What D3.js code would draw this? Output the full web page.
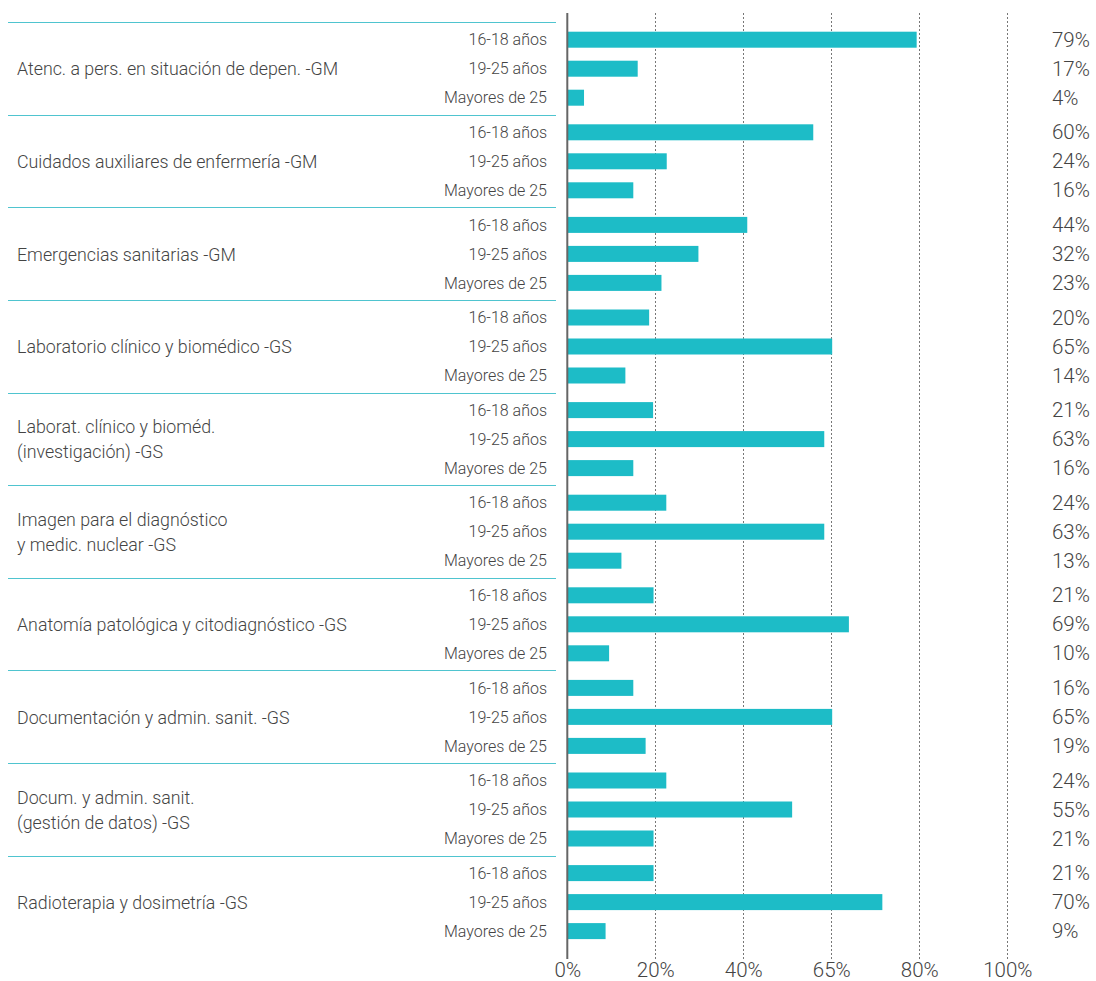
<!DOCTYPE html>
<html>
<head>
<meta charset="utf-8">
<script src="https://cdn.jsdelivr.net/npm/d3@7"></script>
<style>
  html, body { margin: 0; padding: 0; background: #fff; }
  svg { display: block; font-family: Roboto, "Open Sans", sans-serif; }
</style>
</head>
<body>
<svg id="chart" width="1096" height="981"></svg>
<script>
const categories = [
  "Atenc. a pers. en situación de depen. -GM",
  "Cuidados auxiliares de enfermería -GM",
  "Emergencias sanitarias -GM",
  "Laboratorio clínico y biomédico -GS",
  "Laborat. clínico y bioméd.\n(investigación) -GS",
  "Imagen para el diagnóstico\ny medic. nuclear -GS",
  "Anatomía patológica y citodiagnóstico -GS",
  "Documentación y admin. sanit. -GS",
  "Docum. y admin. sanit.\n(gestión de datos) -GS",
  "Radioterapia y dosimetría -GS"
];
const ageGroups = ["16-18 años", "19-25 años", "Mayores de 25"];

// bar lengths as drawn against the axis (%)
const bars16_18 = [79.4, 55.9, 40.9, 18.6, 19.5, 22.5, 19.6, 15.0, 22.5, 19.6];
const bars19_25 = [16.0, 22.6, 29.8, 60.2, 58.4, 58.4, 64.0, 60.2, 51.1, 71.6];
const barsMay25 = [3.8, 15.0, 21.4, 13.2, 15.0, 12.3, 9.5, 17.8, 19.6, 8.7];

// printed value labels (%)
const labels16_18 = [79, 60, 44, 20, 21, 24, 21, 16, 24, 21];
const labels19_25 = [17, 24, 32, 65, 63, 63, 69, 65, 55, 70];
const labelsMay25 = [4, 16, 23, 14, 16, 13, 10, 19, 21, 9];

const tickValues = [0, 20, 40, 60, 80, 100];
const tickLabels = ["0%", "20%", "40%", "65%", "80%", "100%"];

const barSeries = [bars16_18, bars19_25, barsMay25];
const labelSeries = [labels16_18, labels19_25, labelsMay25];

const rows = [];
categories.forEach((c, i) => {
  ageGroups.forEach((a, j) => {
    rows.push({cat: c, age: a, value: barSeries[j][i], label: labelSeries[j][i]});
  });
});

const svg = d3.select("#chart");
const textColor = "#444";
const barColor = "#1dbcc7";

const x = d3.scaleLinear().domain([0, 100]).range([567.3, 1007.3]);
const yGroup = d3.scaleBand().domain(categories).range([22.2, 22.2 + 92.6 * categories.length]).padding(0);
const yRow = d3.scaleBand().domain(ageGroups).range([3, 90]).paddingInner(0.4483).paddingOuter(0.4483 / 2);

const axisTop = 13, axisBottom = 959;

// gridlines
svg.append("g").selectAll("line")
  .data(tickValues.slice(1))
  .join("line")
  .attr("x1", d => Math.round(x(d)) + 0.5)
  .attr("x2", d => Math.round(x(d)) + 0.5)
  .attr("y1", axisTop).attr("y2", axisBottom)
  .attr("stroke", "#777").attr("stroke-width", 1)
  .attr("stroke-dasharray", "2,2");

// group separators
svg.append("g").selectAll("line")
  .data(categories)
  .join("line")
  .attr("x1", 8).attr("x2", 556)
  .attr("y1", d => Math.round(yGroup(d)) + 0.5)
  .attr("y2", d => Math.round(yGroup(d)) + 0.5)
  .attr("stroke", "#4fc4cf").attr("stroke-width", 1);

// bars
svg.append("g").selectAll("rect")
  .data(rows)
  .join("rect")
  .attr("x", x(0))
  .attr("y", d => yGroup(d.cat) + yRow(d.age))
  .attr("width", d => x(d.value) - x(0))
  .attr("height", yRow.bandwidth())
  .attr("fill", barColor);

// axis line
svg.append("line")
  .attr("x1", x(0)).attr("x2", x(0))
  .attr("y1", axisTop).attr("y2", axisBottom)
  .attr("stroke", "#666").attr("stroke-width", 2);

// row labels
svg.append("g").selectAll("text")
  .data(rows)
  .join("text")
  .attr("x", 547)
  .attr("y", d => yGroup(d.cat) + yRow(d.age) + yRow.bandwidth() / 2)
  .attr("dy", "0.35em")
  .attr("text-anchor", "end")
  .attr("font-size", 16)
  .attr("font-weight", 300)
  .attr("fill", textColor)
  .text(d => d.age);

// value labels
svg.append("g").selectAll("text")
  .data(rows)
  .join("text")
  .attr("x", 1052)
  .attr("y", d => yGroup(d.cat) + yRow(d.age) + yRow.bandwidth() / 2)
  .attr("dy", "0.35em")
  .attr("font-size", 20.5)
  .attr("font-weight", 300)
  .attr("fill", textColor)
  .text(d => d.label + "%");

// category labels
const catG = svg.append("g").selectAll("text")
  .data(categories)
  .join("text")
  .attr("x", 17)
  .attr("font-size", 17.8)
  .attr("font-weight", 300)
  .attr("fill", textColor);
catG.each(function(d) {
  const lines = d.split("\n");
  const cy = yGroup(d) + 47;
  const lh = 25;
  const t = d3.select(this);
  lines.forEach((ln, k) => {
    t.append("tspan")
      .attr("x", 17)
      .attr("y", cy + (k - (lines.length - 1) / 2) * lh)
      .attr("dy", "0.35em")
      .text(ln);
  });
});

// x axis tick labels
const xAxis = d3.axisBottom(x).tickValues(tickValues).tickFormat((d, i) => tickLabels[i]).tickSize(0).tickPadding(0);
const ax = svg.append("g").attr("transform", "translate(0,962)").call(xAxis);
ax.select(".domain").remove();
ax.selectAll("text")
  .attr("font-family", "Roboto, 'Open Sans', sans-serif")
  .attr("font-size", 20.5)
  .attr("font-weight", 300)
  .attr("fill", textColor)
  .attr("dy", "0.71em");
</script>
</body>
</html>
